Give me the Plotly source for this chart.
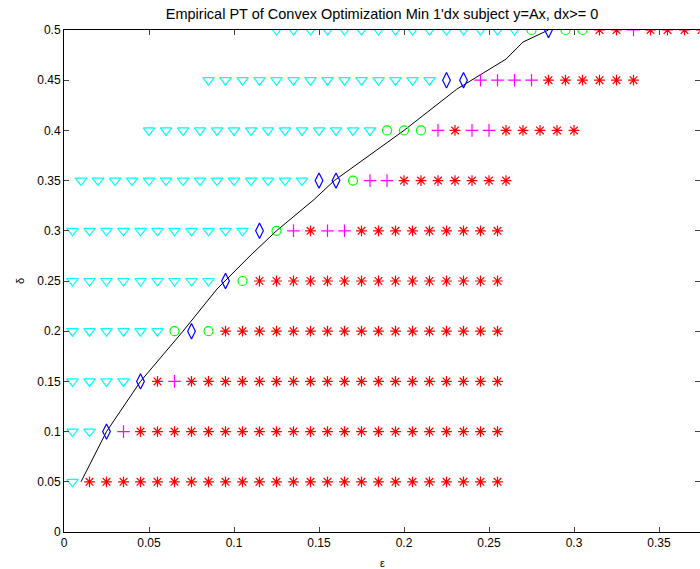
import plotly.graph_objects as go

# Rows of the phase-transition grid
delta_rows = [0.05, 0.10, 0.15, 0.20, 0.25, 0.30, 0.35, 0.40, 0.45, 0.50]
eps_start = [0.005, 0.005, 0.005, 0.005, 0.005, 0.005, 0.010, 0.050, 0.085, 0.125]
eps_step = 0.01
# Outcome codes per grid point: V=triangle, D=diamond, O=circle, P=plus, S=star
row_codes = [
    "V" + "S" * 25,
    "VVDP" + "S" * 22,
    "VVVVDSP" + "S" * 19,
    "VVVVVVODO" + "S" * 17,
    "V" * 9 + "DO" + "S" * 15,
    "V" * 11 + "DOPSPP" + "S" * 9,
    "V" * 14 + "DDOPP" + "S" * 7,
    "V" * 14 + "OOOPSPP" + "S" * 5,
    "V" * 14 + "DDPPPP" + "S" * 6,
    "V" * 15 + "ODOOSSPSSSS",
]

# Empirical phase-transition curve
curve_eps = [0.010, 0.025, 0.045, 0.070, 0.090, 0.110, 0.125, 0.147, 0.159, 0.200, 0.231, 0.260, 0.270, 0.285]
curve_delta = [0.050, 0.100, 0.150, 0.200, 0.242, 0.276, 0.300, 0.331, 0.350, 0.400, 0.441, 0.471, 0.488, 0.500]

x_ticks = [0, 0.05, 0.1, 0.15, 0.2, 0.25, 0.3, 0.35]
y_ticks = [0, 0.05, 0.1, 0.15, 0.2, 0.25, 0.3, 0.35, 0.4, 0.45, 0.5]

styles = {
    "V": dict(symbol="triangle-down-open", color="#00FFFF", size=10),
    "D": dict(symbol="diamond-tall-open", color="#0000FF", size=11),
    "O": dict(symbol="circle-open", color="#00FF00", size=9),
    "P": dict(symbol="cross-thin-open", color="#FF00FF", size=9),
    "S": dict(symbol="asterisk-open", color="#FF0000", size=9),
}

pts = {k: ([], []) for k in styles}
for d, s0, codes in zip(delta_rows, eps_start, row_codes):
    for i, c in enumerate(codes):
        pts[c][0].append(round(s0 + i * eps_step, 4))
        pts[c][1].append(d)

fig = go.Figure()
fig.add_trace(go.Scatter(x=curve_eps, y=curve_delta, mode="lines",
                         line=dict(color="black", width=1), showlegend=False))
for k, st in styles.items():
    fig.add_trace(go.Scatter(
        x=pts[k][0], y=pts[k][1], mode="markers", showlegend=False,
        marker=dict(symbol=st["symbol"], size=st["size"], color=st["color"],
                    line=dict(color=st["color"], width=1.2)),
    ))

fig.update_layout(
    width=700, height=569,
    margin=dict(l=64, r=0, t=30, b=37, autoexpand=False),
    paper_bgcolor="white", plot_bgcolor="white",
    font=dict(family="Liberation Sans, Arial, sans-serif", size=12, color="black"),
    title=dict(text="Empirical PT of Convex Optimization Min 1'dx subject y=Ax, dx>= 0",
               x=0.5, xref="paper", xanchor="center",
               y=1 - 13.5 / 569, yref="container", yanchor="middle",
               font=dict(size=14.5), automargin=False),
    xaxis=dict(range=[0, 0.37412], tickvals=x_ticks, ticks="inside", ticklen=5,
               showline=True, linecolor="black", linewidth=1, mirror="ticks",
               showgrid=False, zeroline=False, automargin=False),
    yaxis=dict(range=[0, 0.5], tickvals=y_ticks, ticks="inside", ticklen=5,
               showline=True, linecolor="black", linewidth=1, mirror="ticks",
               showgrid=False, zeroline=False, automargin=False),
    annotations=[
        dict(text="ε", xref="paper", yref="paper", x=0.5, y=-31 / 502,
             xanchor="center", yanchor="middle", showarrow=False, font=dict(size=11)),
        dict(text="δ", xref="paper", yref="paper", x=-44 / 636, y=0.5,
             xanchor="center", yanchor="middle", showarrow=False, textangle=-90,
             font=dict(size=11)),
    ],
)

fig.write_html("out.html", config={"displayModeBar": False},
               post_script="document.body.style.margin='0';document.body.style.overflow='hidden';")
